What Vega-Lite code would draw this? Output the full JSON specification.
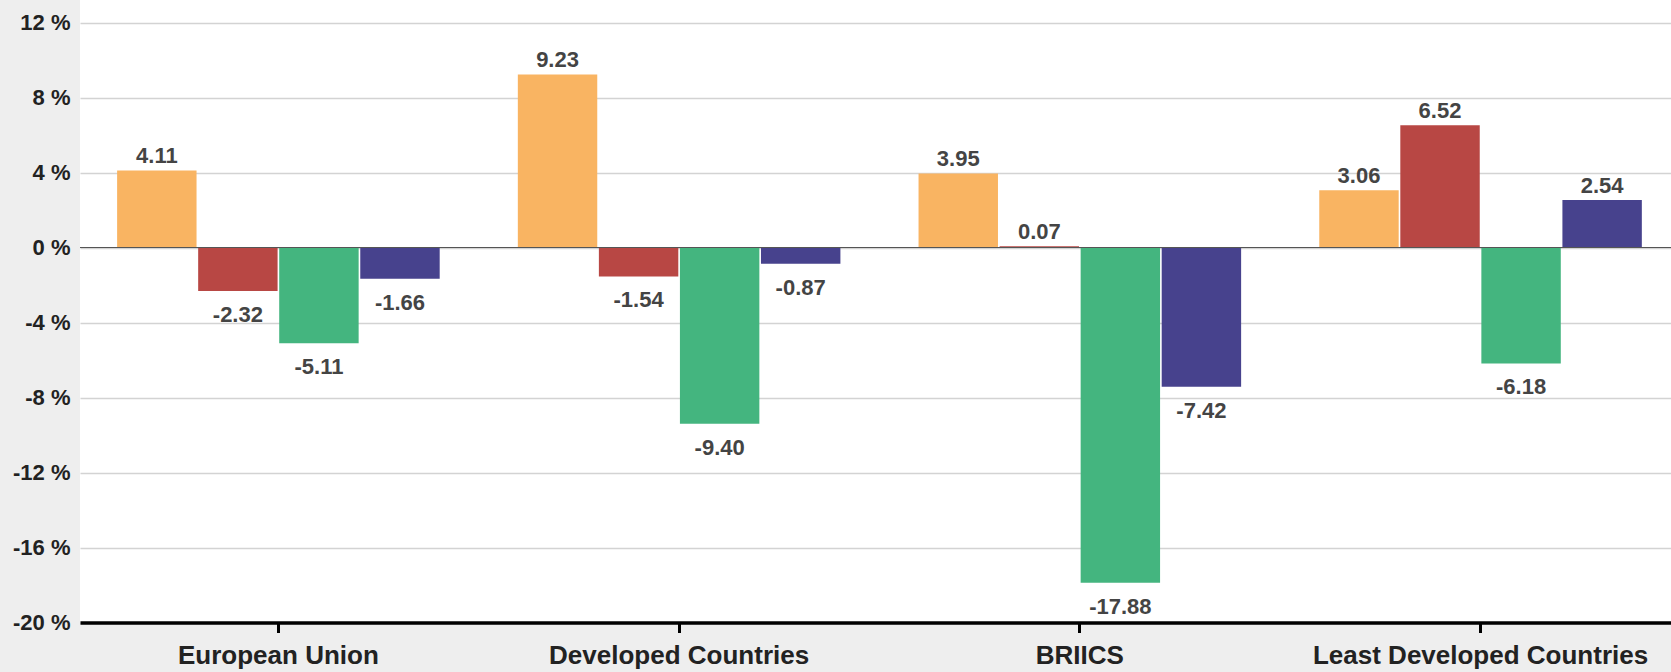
{
  "$schema": "https://vega.github.io/schema/vega-lite/v6.json",
  "width": 1591,
  "height": 622.5,
  "autosize": {"type": "none"},
  "padding": {"left": 80, "top": 0, "right": 0, "bottom": 49.5},
  "background": "#eeeeee",
  "config": {
    "view": {"fill": "white", "stroke": null},
    "font": "Liberation Sans",
    "locale": {"number": {"decimal": ".", "thousands": ",", "grouping": [3], "currency": ["$", ""], "minus": "-"}}
  },
  "data": {
    "values": [
      {"region": "European Union", "series": "Series 1", "value": 4.11},
      {"region": "European Union", "series": "Series 2", "value": -2.32},
      {"region": "European Union", "series": "Series 3", "value": -5.11},
      {"region": "European Union", "series": "Series 4", "value": -1.66},
      {"region": "Developed Countries", "series": "Series 1", "value": 9.23},
      {"region": "Developed Countries", "series": "Series 2", "value": -1.54},
      {"region": "Developed Countries", "series": "Series 3", "value": -9.40},
      {"region": "Developed Countries", "series": "Series 4", "value": -0.87},
      {"region": "BRIICS", "series": "Series 1", "value": 3.95},
      {"region": "BRIICS", "series": "Series 2", "value": 0.07},
      {"region": "BRIICS", "series": "Series 3", "value": -17.88},
      {"region": "BRIICS", "series": "Series 4", "value": -7.42},
      {"region": "Least Developed Countries", "series": "Series 1", "value": 3.06},
      {"region": "Least Developed Countries", "series": "Series 2", "value": 6.52},
      {"region": "Least Developed Countries", "series": "Series 3", "value": -6.18},
      {"region": "Least Developed Countries", "series": "Series 4", "value": 2.54}
    ]
  },
  "layer": [
    {
      "mark": {"type": "bar"},
      "encoding": {
        "x": {
          "field": "region", "type": "nominal",
          "sort": ["European Union", "Developed Countries", "BRIICS", "Least Developed Countries"],
          "scale": {"paddingInner": 0.195, "paddingOuter": 0.0827, "align": 0.56},
          "axis": {
            "title": null, "labelAngle": 0, "grid": false, "labelLimit": 0,
            "domainColor": "#000000", "domainWidth": 3.5,
            "tickColor": "#000000", "tickSize": 10, "tickWidth": 3,
            "labelFontSize": 26, "labelFontWeight": "bold", "labelColor": "#222222",
            "labelPadding": 10
          }
        },
        "xOffset": {"field": "series", "type": "nominal", "scale": {"paddingInner": 0.02}},
        "y": {
          "field": "value", "type": "quantitative",
          "scale": {"domain": [-20, 13.2], "nice": false},
          "axis": {
            "title": null, "values": [-20, -16, -12, -8, -4, 0, 4, 8, 12],
            "labelExpr": "datum.value + ' %'",
            "domain": false, "ticks": false,
            "labelFontSize": 22, "labelFontWeight": "bold", "labelColor": "#222222",
            "labelPadding": 10,
            "gridColor": "#d3d3d3", "gridWidth": 1.5
          }
        },
        "color": {
          "field": "series", "type": "nominal",
          "scale": {"domain": ["Series 1", "Series 2", "Series 3", "Series 4"], "range": ["#F9B462", "#B84744", "#44B57F", "#47428D"]},
          "legend": null
        }
      }
    },
    {
      "transform": [{"filter": "datum.value >= 0"}],
      "mark": {"type": "text", "baseline": "alphabetic", "dy": -7, "fontSize": 22, "fontWeight": "bold", "color": "#444444"},
      "encoding": {
        "x": {"field": "region", "type": "nominal", "sort": ["European Union", "Developed Countries", "BRIICS", "Least Developed Countries"]},
        "xOffset": {"field": "series", "type": "nominal"},
        "y": {"field": "value", "type": "quantitative"},
        "text": {"field": "value", "type": "quantitative", "format": ".2f"}
      }
    },
    {
      "transform": [{"filter": "datum.value < 0"}],
      "mark": {"type": "text", "baseline": "alphabetic", "dy": 31, "fontSize": 22, "fontWeight": "bold", "color": "#444444"},
      "encoding": {
        "x": {"field": "region", "type": "nominal", "sort": ["European Union", "Developed Countries", "BRIICS", "Least Developed Countries"]},
        "xOffset": {"field": "series", "type": "nominal"},
        "y": {"field": "value", "type": "quantitative"},
        "text": {"field": "value", "type": "quantitative", "format": ".2f"}
      }
    },
    {
      "mark": {"type": "rule", "color": "#555555", "strokeWidth": 1.2},
      "encoding": {"y": {"datum": 0, "type": "quantitative"}}
    }
  ]
}
